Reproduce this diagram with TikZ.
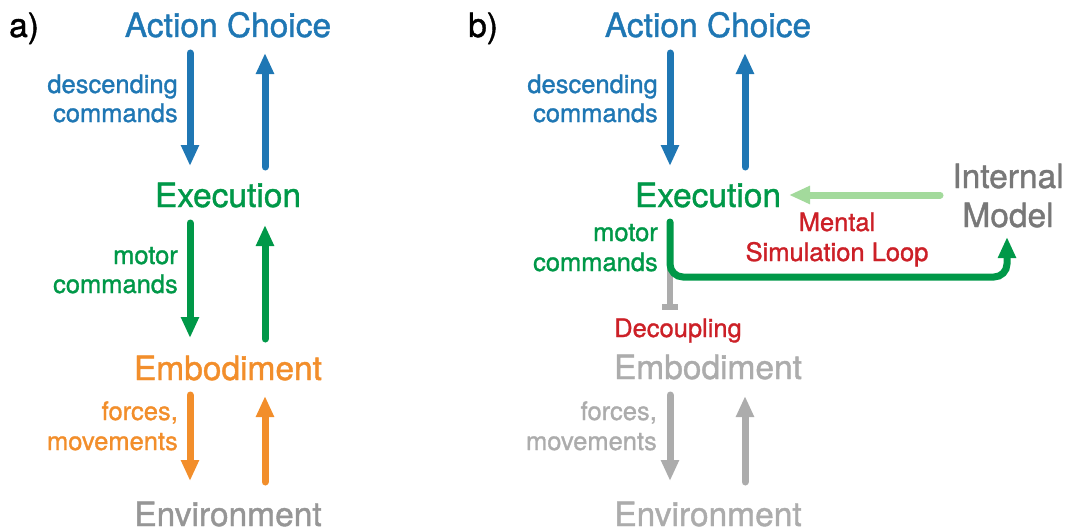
\documentclass[tikz,border=0pt]{standalone}
\usepackage{fontspec}
\setmainfont[FakeBold=1.2,AutoFakeBold=1.2]{TeX Gyre Heros}
\usetikzlibrary{arrows.meta}
\definecolor{cblue}{RGB}{31,119,180}
\definecolor{cgreen}{RGB}{0,152,72}
\definecolor{corange}{RGB}{242,142,43}
\definecolor{cred}{RGB}{204,32,39}
\definecolor{clgreen}{RGB}{163,218,156}
\definecolor{cgray}{RGB}{150,150,150}
\definecolor{clgray}{RGB}{172,172,172}
\definecolor{cdgray}{RGB}{120,120,120}
\begin{document}
\begin{tikzpicture}[x=1pt,y=-1pt,
  big/.style={font=\fontsize{33.5}{40}\bfseries, anchor=base, inner sep=0pt},
  small/.style={font=\fontsize{25.5}{30}\bfseries, anchor=base east, inner sep=0pt},
  smallc/.style={font=\fontsize{25.5}{30}\bfseries, anchor=base, inner sep=0pt},
  flow/.style={line width=7pt, line cap=round, -{Triangle[width=17pt,length=21pt]}},
  thin/.style={line width=6pt}]
\useasboundingbox (0,0) rectangle (1065,527);

% ---------- panel a ----------
\node[big, anchor=base west] (la) at (9,37) {a)};
\node[big, cblue]   (acA) at (228,37)  {Action Choice};
\node[big, cgreen]  (exA) at (228,207) {Execution};
\node[big, corange] (emA) at (228,380) {Embodiment};
\node[big, cgray]   (enA) at (228,526) {Environment};

\node[small, cblue]   (dcA1) at (178,93)  {descending};
\node[small, cblue]   (dcA2) at (178,122) {commands};
\node[small, cgreen]  (mcA1) at (178,264) {motor};
\node[small, cgreen]  (mcA2) at (178,293) {commands};
\node[small, corange] (fmA1) at (178,420) {forces,};
\node[small, corange] (fmA2) at (178,450) {movements};

\coordinate (a1) at (190,53);  \coordinate (a2) at (190,166);
\coordinate (a3) at (265,167); \coordinate (a4) at (265,53);
\coordinate (a5) at (190,223); \coordinate (a6) at (190,338);
\coordinate (a7) at (265,339); \coordinate (a8) at (265,225);
\coordinate (a9) at (190,395); \coordinate (a10) at (190,481);
\coordinate (a11) at (265,482); \coordinate (a12) at (265,396);

\draw[flow, cblue]   (a1) -- (a2);
\draw[flow, cblue]   (a3) -- (a4);
\draw[flow, cgreen]  (a5) -- (a6);
\draw[flow, cgreen]  (a7) -- (a8);
\draw[flow, corange] (a9) -- (a10);
\draw[flow, corange] (a11) -- (a12);

% ---------- panel b ----------
\node[big, anchor=base west] (lb) at (468,37) {b)};
\node[big, cblue]   (acB) at (708,37)  {Action Choice};
\node[big, cgreen]  (exB) at (708,207) {Execution};
\node[big, clgray]  (emB) at (708,379) {Embodiment};
\node[big, clgray]  (enB) at (708,526) {Environment};
\node[big, cdgray]  (imB1) at (1008,188) {Internal};
\node[big, cdgray]  (imB2) at (1008,227) {Model};

\node[small, cblue]  (dcB1) at (658,93)  {descending};
\node[small, cblue]  (dcB2) at (658,122) {commands};
\node[small, cgreen] (mcB1) at (658,241) {motor};
\node[small, cgreen] (mcB2) at (658,271) {commands};
\node[small, clgray] (fmB1) at (657,420) {forces,};
\node[small, clgray] (fmB2) at (657,450) {movements};

\node[smallc, cred] (msB1) at (837,231) {Mental};
\node[smallc, cred] (msB2) at (837,261) {Simulation Loop};
\node[smallc, cred] (dpB)  at (678,337) {Decoupling};

\coordinate (b1) at (670,53);  \coordinate (b2) at (670,166);
\coordinate (b3) at (745,167); \coordinate (b4) at (745,53);
\coordinate (b9) at (670,395); \coordinate (b10) at (670,481);
\coordinate (b11) at (745,482); \coordinate (b12) at (745,396);

\draw[flow, cblue]  (b1) -- (b2);
\draw[flow, cblue]  (b3) -- (b4);
\draw[flow, clgray] (b9) -- (b10);
\draw[flow, clgray] (b11) -- (b12);

% decoupled path towards the body
\coordinate (dc0) at (670,268);
\coordinate (dc1) at (670,310);
\draw[thin, clgray, -{Bar[width=16pt,line width=6pt]}] (dc0) -- (dc1);

% simulation loop through the internal model
\coordinate (ml0) at (670,222);
\coordinate (ml1) at (1007,237);
\draw[flow, cgreen, rounded corners=13pt] (ml0) -- (670,277) -- (1007,277) -- (ml1);

% prediction returned by the internal model
\coordinate (pr0) at (940,195);
\coordinate (pr1) at (789,195);
\draw[flow, clgreen] (pr0) -- (pr1);
\end{tikzpicture}
\end{document}
